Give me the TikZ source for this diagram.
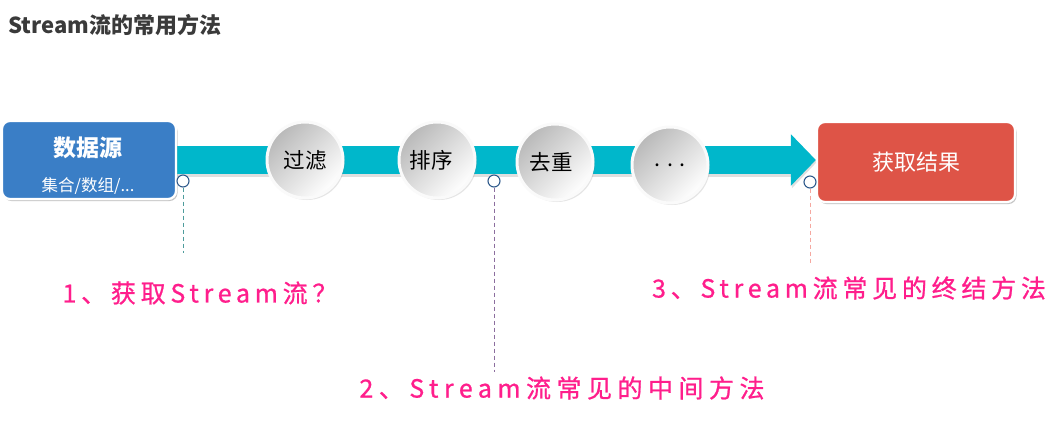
\documentclass[tikz,border=0pt]{standalone}
\usepackage{fontspec}
\setmainfont{Noto Sans CJK SC}
\newfontfamily\handA{Noto Sans CJK SC}[LetterSpace=19,FakeBold=0.8]
\newfontfamily\handB{Noto Sans CJK SC}[LetterSpace=22,FakeBold=0.8]
\newfontfamily\handC{Noto Sans CJK SC}[LetterSpace=19,FakeBold=0.8]
\usetikzlibrary{shadows,arrows.meta}
\definecolor{boxblue}{HTML}{3A7EC6}
\definecolor{boxred}{HTML}{DE5447}
\definecolor{barcyan}{HTML}{00B7CB}
\definecolor{hpink}{HTML}{FF1E8C}
\definecolor{titlegray}{HTML}{3A3A3A}
\definecolor{pinoutline}{HTML}{2F5A8C}
\definecolor{dashteal}{HTML}{4E9C9C}
\definecolor{dashpurple}{HTML}{8C6E9E}
\definecolor{dashpink}{HTML}{F5A8A0}
\tikzset{
  endbox/.style={draw=white, line width=2.2pt, rounded corners=8pt, text=white,
    drop shadow={opacity=0.25, shadow xshift=1.5pt, shadow yshift=-2pt}, inner sep=0pt},
  stepball/.style={circle, minimum size=76pt, inner sep=0pt, draw=white!96!gray, line width=3pt,
    top color=gray!55, bottom color=white, shading angle=45,
    drop shadow={opacity=0.2, shadow xshift=2pt, shadow yshift=-2pt}, font=\fontsize{21.5}{24}\selectfont},
  pin/.style={circle, draw=pinoutline, fill=white, line width=1.1pt, minimum size=12pt, inner sep=0pt},
  hand/.style={text=hpink, inner sep=0pt, anchor=center},
}
\begin{document}
\begin{tikzpicture}[x=1pt,y=-1pt]
\useasboundingbox[fill=white] (0,0) rectangle (1053,424);
% title
\node[anchor=west, text=titlegray, font=\fontsize{22}{25}\selectfont\bfseries, inner sep=0pt] (title) at (8,25) {Stream流的常用方法};
% end boxes
\node[endbox, fill=boxblue, minimum width=174pt, minimum height=78pt] (src) at (89,160) {};
\node[endbox, fill=boxred, minimum width=198pt, minimum height=80pt] (dst) at (916,162) {};
% main bar (arrow) behind steps
\draw[line width=29pt, draw=black!35, opacity=0.35, -{Triangle[length=25pt,width=51pt]}]
  ([xshift=0pt,yshift=-2pt]src.east) -- ([xshift=1pt,yshift=0pt]dst.west);
\draw[line width=28pt, draw=barcyan, -{Triangle[length=25pt,width=50pt]}]
  (src.east) -- ([yshift=2pt]dst.west);
% redraw boxes on top of bar
\node[endbox, fill=boxblue, minimum width=174pt, minimum height=78pt] at (89,160) {};
\node[endbox, fill=boxred, minimum width=198pt, minimum height=80pt] at (916,162) {};
\node[text=white, font=\fontsize{23}{26}\selectfont\bfseries, inner sep=0pt] (srcT) at (88,148) {数据源};
\node[text=white, font=\fontsize{16.5}{19}\selectfont, inner sep=0pt] (srcS) at (88,186) {集合/数组/...};
\node[text=white, font=\fontsize{22}{25}\selectfont, inner sep=0pt] (dstT) at (916,162) {获取结果};
% steps
\node[stepball] (s1) at (305,160) {过滤};
\node[stepball] (s2) at (437,160) {\hspace*{-12pt}排序};
\node[stepball] (s3) at (555,162) {\hspace*{-8pt}去重};
\node[stepball] (s4) at (670,165) {\raisebox{-4pt}{.\hspace{7pt}.\hspace{7pt}.}};
% pins and dashed leaders
\node[pin] (p1) at (183,181) {};
\node[pin] (p2) at (494,181) {};
\node[pin] (p3) at (810,182) {};
\coordinate (e1) at (183,253);
\coordinate (e2) at (494,372);
\coordinate (e3) at (810,265);
\draw[dashteal, dashed, line width=0.8pt, dash pattern=on 4pt off 3pt] (p1.south) -- (e1);
\draw[dashpurple, dashed, line width=0.8pt, dash pattern=on 4pt off 3pt] (p2.south) -- (e2);
\draw[dashpink, dashed, line width=0.8pt, dash pattern=on 4pt off 3pt] (p3.south) -- (e3);
% handwritten labels
\node[hand, font=\handA\fontsize{25}{28}\selectfont] (l1) at (200,293) {1、获取Stream流？};
\node[hand, font=\handB\fontsize{25}{28}\selectfont] (l2) at (562,388) {2、Stream流常见的中间方法};
\node[hand, font=\handC\fontsize{25}{28}\selectfont] (l3) at (849,288) {3、Stream流常见的终结方法};
\end{tikzpicture}
\end{document}
